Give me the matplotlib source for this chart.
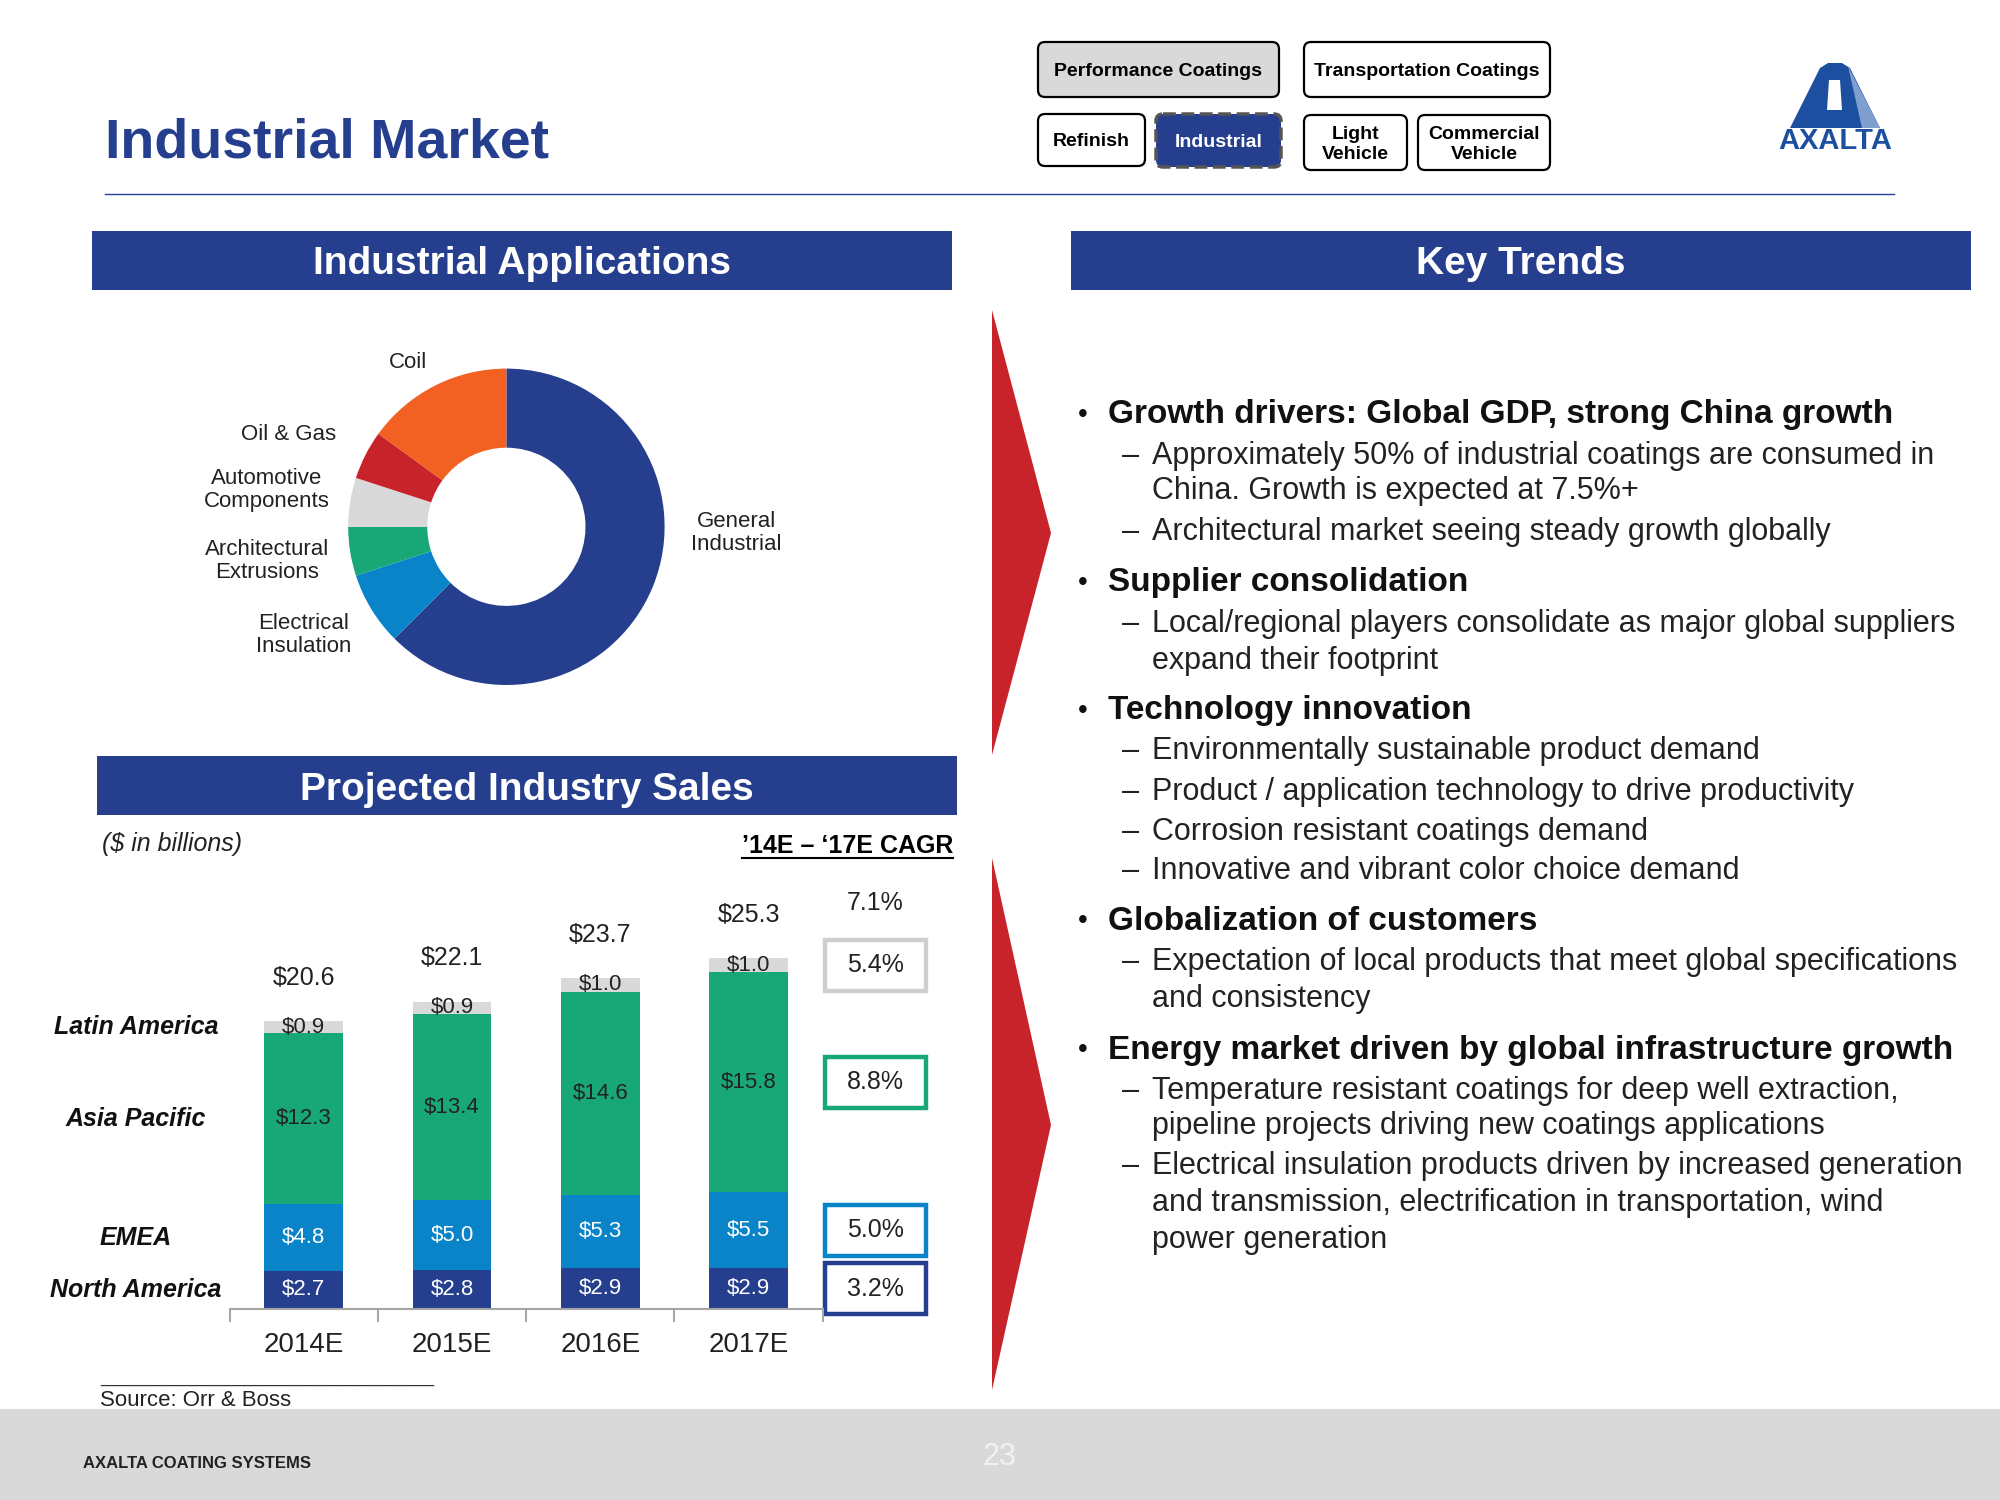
import numpy as np
import matplotlib
matplotlib.use("Agg")
import matplotlib.pyplot as plt
from matplotlib.patches import Rectangle, FancyBboxPatch, Polygon
from matplotlib.transforms import blended_transform_factory

plt.rcParams["font.family"] = ["Liberation Sans", "DejaVu Sans"]

W, H = 2000, 1500
NAVY = "#253F8E"
SKY = "#0A84C8"
GREEN = "#18A878"
LGREY = "#D9D9D9"
RED = "#C8232B"
ORANGE = "#F26122"

# donut data (share of industrial applications, %)
segments = ["General\nIndustrial", "Electrical\nInsulation", "Architectural\nExtrusions",
            "Automotive\nComponents", "Oil & Gas", "Coil"]
segment_share = [62.5, 7.5, 5.0, 5.0, 5.0, 15.0]
segment_colors = [NAVY, SKY, GREEN, LGREY, RED, ORANGE]

# stacked bars ($ in billions)
years = ["2014E", "2015E", "2016E", "2017E"]
regions = ["North America", "EMEA", "Asia Pacific", "Latin America"]
north_america = [2.7, 2.8, 2.9, 2.9]
emea = [4.8, 5.0, 5.3, 5.5]
asia_pacific = [12.3, 13.4, 14.6, 15.8]
latin_america = [0.9, 0.9, 1.0, 1.0]
totals = [20.6, 22.1, 23.7, 25.3]
cagr_total = "7.1%"
cagr_regions = ["3.2%", "5.0%", "8.8%", "5.4%"]

region_values = [north_america, emea, asia_pacific, latin_america]
region_colors = [NAVY, SKY, GREEN, LGREY]
label_colors = ["white", "white", "#222222", "#222222"]
box_colors = [NAVY, SKY, GREEN, "#CFCFCF"]

fig = plt.figure(figsize=(W / 100, H / 100), dpi=100)


def px_axes(x0, y0, x1, y1):
    return fig.add_axes([x0 / W, 1 - y1 / H, (x1 - x0) / W, (y1 - y0) / H])


bg = fig.add_axes([0, 0, 1, 1])
bg.set_xlim(0, W)
bg.set_ylim(H, 0)
bg.axis("off")
bg.set_zorder(0)

# title + rule
bg.text(105, 143, "Industrial Market", color=NAVY, fontsize=40, fontweight="bold", va="center")
bg.plot([105, 1894], [194, 194], color=NAVY, lw=1)

# nav buttons
buttons = [
    ("Performance Coatings", 1038, 42, 1279, 97, LGREY, "black", "black", "solid"),
    ("Transportation Coatings", 1304, 42, 1550, 97, "white", "black", "black", "solid"),
    ("Refinish", 1038, 114, 1145, 166, "white", "black", "black", "solid"),
    ("Industrial", 1156, 114, 1281, 167, NAVY, "#555555", "white", "dashed"),
    ("Light\nVehicle", 1304, 115, 1407, 170, "white", "black", "black", "solid"),
    ("Commercial\nVehicle", 1418, 115, 1550, 170, "white", "black", "black", "solid"),
]
for txt, x0, y0, x1, y1, fc, ec, tc, ls in buttons:
    bg.add_patch(FancyBboxPatch((x0, y0), x1 - x0, y1 - y0,
                                boxstyle="round,pad=0,rounding_size=7",
                                fc=fc, ec=ec, lw=2.5 if ls == "dashed" else 1.6, ls=ls))
    bg.text((x0 + x1) / 2, (y0 + y1) / 2 + 2, txt, ha="center", va="center",
            color=tc, fontsize=14, fontweight="bold", linespacing=1.2)

# logo
bg.add_patch(Polygon([(1790, 128), (1820, 68), (1828, 63), (1842, 63), (1850, 68), (1880, 128)],
                     closed=True, fc="#1D4FA0", ec="none"))
bg.add_patch(Polygon([(1848, 66), (1880, 128), (1862, 128)], closed=True, fc="#7F9FD0", ec="none"))
bg.add_patch(Polygon([(1829, 80), (1840, 80), (1842, 110), (1827, 110)], closed=True, fc="white", ec="none"))
bg.text(1835, 141, "AXALTA", ha="center", va="center", color="#1D4FA0", fontsize=21, fontweight="heavy")

# section headers
for txt, x0, y0, x1, y1 in [("Industrial Applications", 92, 231, 952, 290),
                            ("Key Trends", 1071, 231, 1971, 290),
                            ("Projected Industry Sales", 97, 756, 957, 815)]:
    bg.add_patch(Rectangle((x0, y0), x1 - x0, y1 - y0, fc=NAVY, ec="none"))
    bg.text((x0 + x1) / 2, (y0 + y1) / 2 + 4, txt, ha="center", va="center",
            color="white", fontsize=28, fontweight="bold")

# red chevrons
bg.add_patch(Polygon([(992, 310), (1051, 533), (992, 755)], closed=True, fc=RED, ec="none"))
bg.add_patch(Polygon([(992, 858), (1051, 1125), (992, 1390)], closed=True, fc=RED, ec="none"))

# donut labels
for txt, x, y, ha in [("Coil", 408, 362, "center"), ("Oil & Gas", 336, 434, "right"),
                      ("Automotive\nComponents", 267, 490, "center"),
                      ("Architectural\nExtrusions", 267, 561, "center"),
                      ("Electrical\nInsulation", 304, 635, "center"),
                      ("General\nIndustrial", 736, 533, "center")]:
    bg.text(x, y, txt, ha=ha, va="center", fontsize=16, color="#222222", linespacing=1.15)

# donut
ax_d = px_axes(506.4 - 158.2, 526.8 - 158.2, 506.4 + 158.2, 526.8 + 158.2)
ax_d.pie(segment_share, colors=segment_colors, startangle=90, counterclock=False, radius=1,
         wedgeprops=dict(width=0.5, edgecolor="none"))
ax_d.set_xlim(-1, 1)
ax_d.set_ylim(-1, 1)
ax_d.set_zorder(1)

# bar chart captions
bg.text(102, 844, "($ in billions)", fontsize=18, style="italic", va="center", color="#222222")
bg.text(953, 846, "\u201914E \u2013 \u201817E CAGR", fontsize=18, fontweight="bold", ha="right", va="center")
bg.plot([742, 953], [858, 858], color="black", lw=1.5)

# stacked bars
ax = px_axes(229.6, 891.7, 822.7, 1308.7)
ax.set_zorder(1)
ax.patch.set_alpha(0)
x = np.arange(len(years))
bottom = np.zeros(len(years))
for vals, col, lc in zip(region_values, region_colors, label_colors):
    vals = np.array(vals)
    ax.bar(x, vals, width=0.53, bottom=bottom, color=col, edgecolor="none")
    for xi, b, v in zip(x, bottom, vals):
        ax.text(xi, b + v / 2, f"${v:.1f}", ha="center", va="center", color=lc, fontsize=16)
    bottom = bottom + vals
for xi, top, t in zip(x, bottom, totals):
    ax.text(xi, top + 3.1, f"${t:.1f}", ha="center", va="center", fontsize=18, color="#222222")

ax.set_xlim(-0.5, 3.5)
ax.set_ylim(0, 30)
for s in ["top", "right", "left"]:
    ax.spines[s].set_visible(False)
ax.spines["bottom"].set_color("#A6A6A6")
ax.spines["bottom"].set_linewidth(1.5)
ax.set_yticks([])
ax.set_xticks(x)
ax.set_xticklabels(years, fontsize=20, color="#222222")
ax.tick_params(axis="x", which="major", length=0, pad=17)
ax.set_xticks(np.arange(-0.5, 4.0, 1.0), minor=True)
ax.tick_params(axis="x", which="minor", length=9, width=1.5, color="#A6A6A6", direction="out")

# region names + CAGR boxes
trans = blended_transform_factory(ax.transAxes, ax.transData)
bottom = np.zeros(len(years))
for name, vals, bc, cg in zip(regions, region_values, box_colors, cagr_regions):
    vals = np.array(vals)
    mid = bottom + vals / 2
    ax.text(-0.158, mid[0], name, transform=trans, ha="center", va="center",
            fontsize=18, fontweight="bold", style="italic", color="#111111")
    ax.add_patch(Rectangle((1.0044, mid[-1] - 1.83), 0.17, 3.66, transform=trans,
                           fc="white", ec=bc, lw=3.2, clip_on=False))
    ax.text(1.089, mid[-1], cg, transform=trans, ha="center", va="center", fontsize=18, color="#222222")
    bottom = bottom + vals
ax.text(1.089, 29.2, cagr_total, transform=trans, ha="center", va="center", fontsize=18, color="#222222")

# key trends
trends = [
    ("b", 411, "Growth drivers: Global GDP, strong China growth"),
    ("s", 452, "Approximately 50% of industrial coatings are consumed in"),
    ("c", 487, "China. Growth is expected at 7.5%+"),
    ("s", 528, "Architectural market seeing steady growth globally"),
    ("b", 579, "Supplier consolidation"),
    ("s", 620, "Local/regional players consolidate as major global suppliers"),
    ("c", 657, "expand their footprint"),
    ("b", 707, "Technology innovation"),
    ("s", 747, "Environmentally sustainable product demand"),
    ("s", 788, "Product / application technology to drive productivity"),
    ("s", 828, "Corrosion resistant coatings demand"),
    ("s", 867, "Innovative and vibrant color choice demand"),
    ("b", 917, "Globalization of customers"),
    ("s", 958, "Expectation of local products that meet global specifications"),
    ("c", 995, "and consistency"),
    ("b", 1046, "Energy market driven by global infrastructure growth"),
    ("s", 1087, "Temperature resistant coatings for deep well extraction,"),
    ("c", 1122, "pipeline projects driving new coatings applications"),
    ("s", 1162, "Electrical insulation products driven by increased generation"),
    ("c", 1199, "and transmission, electrification in transportation, wind"),
    ("c", 1236, "power generation"),
]
for kind, y, txt in trends:
    y = y + 4
    if kind == "b":
        bg.text(1078, y, "\u2022", fontsize=20, va="center", color="#111111")
        bg.text(1108, y, txt, fontsize=24, fontweight="bold", va="center", color="#111111")
    else:
        if kind == "s":
            bg.text(1122, y, "\u2013", fontsize=22, va="center", color="#222222")
        bg.text(1152, y, txt, fontsize=22, va="center", color="#222222")

# source + footer
bg.text(100, 1377, "_" * 33, fontsize=13, va="center", color="#333333")
bg.text(100, 1401, "Source: Orr & Boss", fontsize=16, va="center", color="#222222")
bg.add_patch(Rectangle((0, 1409), W, H - 1409, fc="#D9D9D9", ec="none"))
bg.text(83, 1464, "AXALTA COATING SYSTEMS", fontsize=12, fontweight="bold", va="center", color="#222222")
bg.text(999, 1457, "23", fontsize=22, ha="center", va="center", color="#F2F2F2")

fig.savefig("out.png", dpi=100)
